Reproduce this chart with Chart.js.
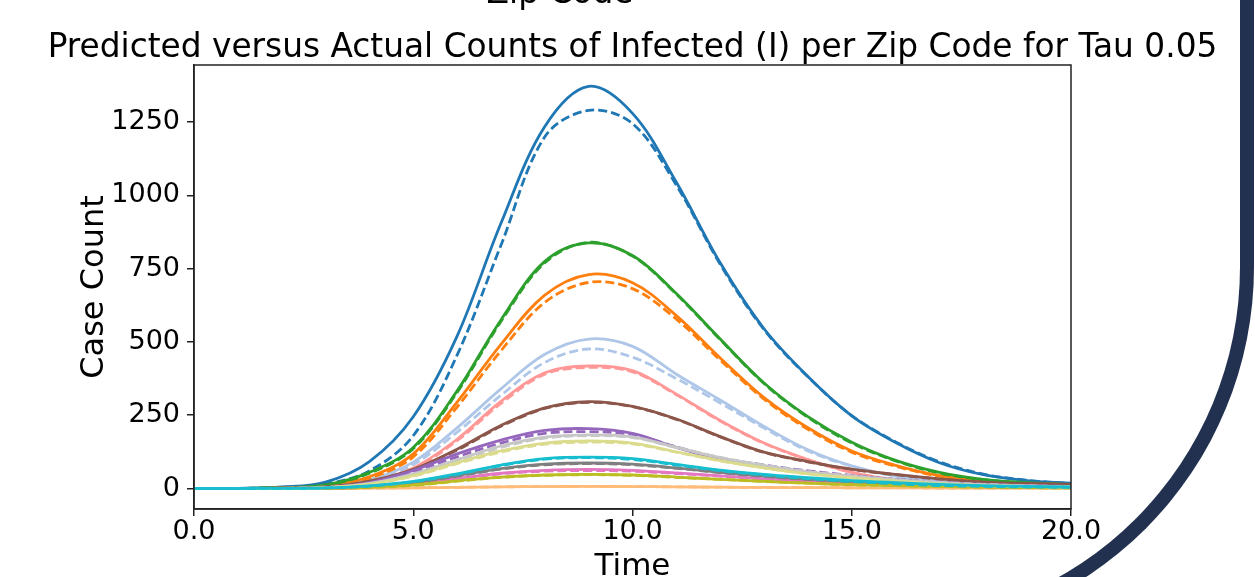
<!DOCTYPE html>
<html>
<head>
<meta charset="utf-8">
<script src="https://cdn.jsdelivr.net/npm/chart.js@4.4.1/dist/chart.umd.min.js"></script>
<style>
    html, body { margin: 0; padding: 0; background: #ffffff; overflow: hidden; }
    #wrap { position: relative; width: 1255px; height: 577px; overflow: hidden; }
    #arc {
        position: absolute; box-sizing: border-box;
        left: 254px; top: -400px; width: 1000px; height: 1037px;
        border-right: 14px solid #21314f; border-bottom: 14px solid #21314f;
        border-bottom-right-radius: 370px;
        pointer-events: none;
    }
</style>
</head>
<body>
<div id="wrap">
    <canvas id="infectedChart" width="1255" height="577"></canvas>
    <div id="arc"></div>
</div>
<script>
// time points (x)
const times = [0, 1, 2, 3, 4, 5, 6, 7, 8, 9, 10, 11, 12, 13, 14, 15, 16, 17, 18, 19, 20];
const xTicks = [0, 5, 10, 15, 20];
const yTicks = [0, 250, 500, 750, 1000, 1250];

// actual (solid) and predicted (dashed) counts per zip code
const blueActual = [0, 0.5, 5, 22, 92, 245, 520, 905, 1235, 1372, 1280, 1045, 770, 545, 382, 248, 157, 88, 47, 27, 18];
const bluePred = [0, 0.3, 3, 15, 60, 180, 455, 830, 1200, 1290, 1245, 1035, 765, 542, 381, 249, 159, 91, 49, 28, 17];
const greenActual = [0, 0.3, 3, 12, 55, 140, 333, 575, 775, 838, 795, 665, 510, 360, 245, 158, 96, 55, 31, 20, 14];
const greenPred = [0, 0.3, 3, 11, 52, 136, 328, 570, 770, 840, 793, 663, 508, 358, 243, 155, 94, 53, 30, 19, 13];
const orangeActual = [0, 0.2, 2, 9, 40, 118, 295, 492, 660, 730, 702, 590, 445, 310, 207, 128, 79, 44, 27, 18, 13];
const orangePred = [0, 0.2, 1.5, 7, 35, 108, 278, 470, 635, 703, 682, 578, 438, 305, 202, 124, 76, 42, 25, 17, 12];
const lightBlueActual = [0, 0.2, 1.5, 7, 30, 90, 207, 340, 458, 510, 485, 390, 302, 212, 132, 77, 42, 25, 14, 9, 7];
const lightBluePred = [0, 0.2, 1.3, 6, 27, 82, 192, 318, 430, 476, 448, 375, 292, 206, 128, 76, 42, 25, 14, 9, 6];
const lightRedActual = [0, 0.1, 1, 5, 22, 70, 168, 297, 395, 418, 402, 322, 232, 155, 99, 55, 29, 16, 9, 5, 3];
const lightRedPred = [0, 0.1, 1, 5, 21, 67, 163, 290, 390, 413, 398, 320, 230, 154, 98, 55, 29, 16, 9, 5, 3];
const brownActual = [0, 0, 1, 5, 25, 65, 134, 215, 275, 296, 280, 237, 177, 124, 92, 66, 48, 33, 22, 17, 14];
const brownPred = [0, 0, 1, 5, 24, 63, 131, 212, 273, 294, 279, 236, 176, 123, 91, 65, 47, 32, 21, 16, 13];
const purpleActual = [0, 0, 0.5, 3, 20, 62, 118, 165, 198, 204, 188, 140, 99, 75, 55, 42, 30, 20, 13, 9, 7];
const purplePred = [0, 0, 0.5, 3, 18, 57, 108, 155, 188, 194, 184, 142, 104, 80, 60, 45, 32, 22, 14, 10, 7];
const lightGrayActual = [0, 0, 0.5, 3, 17, 50, 98, 145, 175, 183, 176, 140, 105, 78, 57, 42, 30, 20, 13, 9, 6];
const lightGrayPred = [0, 0, 0.5, 3, 16, 48, 94, 140, 172, 180, 174, 140, 106, 80, 58, 43, 31, 21, 14, 9, 6];
const khakiActual = [0, 0, 0.4, 3, 15, 44, 88, 128, 155, 162, 155, 125, 95, 70, 50, 36, 25, 16, 10, 7, 5];
const khakiPred = [0, 0, 0.4, 3, 14, 42, 85, 124, 151, 158, 152, 124, 94, 70, 50, 36, 25, 16, 10, 7, 5];
const cyanActual = [0, 0, 0.3, 2, 9, 24, 50, 80, 102, 107, 102, 82, 63, 48, 37, 27, 20, 14, 10, 7, 5];
const cyanPred = [0, 0, 0.3, 2, 8, 23, 48, 78, 100, 105, 99, 80, 61, 46, 34, 24, 16, 10, 7, 5, 4];
const grayActual = [0, 0, 0.3, 1.5, 7, 21, 44, 68, 83, 87, 83, 70, 55, 42, 32, 24, 17, 12, 8, 6, 4];
const grayPred = [0, 0, 0.3, 1.5, 7, 20, 42, 66, 81, 85, 81, 69, 54, 41, 31, 23, 16, 11, 8, 6, 4];
const pinkActual = [0, 0, 0.2, 1, 5, 16, 34, 52, 62, 65, 62, 53, 43, 33, 25, 18, 13, 9, 6, 4, 3];
const pinkPred = [0, 0, 0.2, 1, 5, 15, 32, 50, 59, 61, 59, 51, 42, 32, 24, 18, 13, 9, 6, 4, 3];
const oliveActual = [0, 0, 0.2, 1, 4, 12, 26, 39, 46, 48, 46, 39, 31, 24, 18, 13, 10, 7, 5, 3, 2];
const olivePred = [0, 0, 0.2, 1, 4, 11, 25, 38, 45, 47, 45, 38, 31, 24, 18, 13, 10, 7, 5, 3, 2];
const lightOrangeActual = [0, 0, 0, 0.3, 1, 2.5, 4, 5.5, 6.5, 7, 6.5, 5.5, 4.5, 3.5, 3, 2.5, 2, 1.5, 1, 1, 1];
const lightOrangePred = [0, 0, 0, 0.3, 1, 2.5, 4, 5.5, 6.5, 7, 6.5, 5.5, 4.5, 3.5, 3, 2.5, 2, 1.5, 1, 1, 1];

// plotting order (matplotlib style: later ones on top)
const zipSeries = [
    { color: '#1f77b4', actual: blueActual, pred: bluePred },
    { color: '#aec7e8', actual: lightBlueActual, pred: lightBluePred },
    { color: '#ff7f0e', actual: orangeActual, pred: orangePred },
    { color: '#ffbb78', actual: lightOrangeActual, pred: lightOrangePred },
    { color: '#2ca02c', actual: greenActual, pred: greenPred },
    { color: '#ff9896', actual: lightRedActual, pred: lightRedPred },
    { color: '#8c564b', actual: brownActual, pred: brownPred },
    { color: '#9467bd', actual: purpleActual, pred: purplePred },
    { color: '#e377c2', actual: pinkActual, pred: pinkPred },
    { color: '#7f7f7f', actual: grayActual, pred: grayPred },
    { color: '#c7c7c7', actual: lightGrayActual, pred: lightGrayPred },
    { color: '#bcbd22', actual: oliveActual, pred: olivePred },
    { color: '#dbdb8d', actual: khakiActual, pred: khakiPred },
    { color: '#17becf', actual: cyanActual, pred: cyanPred }
];

const FONT = "'DejaVu Sans', sans-serif";
const toPoints = arr => arr.map((v, i) => ({ x: times[i], y: v }));

const datasets = [];
zipSeries.forEach(s => {
    datasets.push({
        data: toPoints(s.actual), borderColor: s.color, borderWidth: 2.8,
        pointRadius: 0, fill: false, tension: 0.35
    });
    datasets.push({
        data: toPoints(s.pred), borderColor: s.color, borderWidth: 2.8, borderDash: [9, 4],
        pointRadius: 0, fill: false, tension: 0.35
    });
});
// Chart.js paints dataset 0 on top, so flip it
datasets.reverse();

// titles drawn on the canvas around the plot box
const textPlugin = {
    id: 'texts',
    afterDraw(chart) {
        const { ctx, chartArea } = chart;
        const cx = (chartArea.left + chartArea.right) / 2;
        ctx.save();
        ctx.fillStyle = '#000';
        ctx.textAlign = 'center';
        ctx.textBaseline = 'alphabetic';
        ctx.font = `32.8px ${FONT}`;
        ctx.fillText('Zip Code', 560, 3);
        ctx.fillText('Predicted versus Actual Counts of Infected (I) per Zip Code for Tau 0.05', cx, 57);
        ctx.font = `31px ${FONT}`;
        ctx.fillText('Time', cx, 575);
        ctx.translate(103, (chartArea.top + chartArea.bottom) / 2);
        ctx.rotate(-Math.PI / 2);
        ctx.font = `32px ${FONT}`;
        ctx.fillText('Case Count', 0, 0);
        ctx.restore();

        // frame
        ctx.save();
        ctx.strokeStyle = '#222';
        ctx.lineWidth = 1.5;
        ctx.strokeRect(chartArea.left, chartArea.top, chartArea.right - chartArea.left, chartArea.bottom - chartArea.top);
        ctx.restore();
    }
};

const ctx = document.getElementById('infectedChart').getContext('2d');
new Chart(ctx, {
    type: 'line',
    data: { datasets },
    options: {
        responsive: false,
        animation: false,
        layout: { padding: { left: 0, top: 65, right: 184, bottom: 0 } },
        plugins: { legend: { display: false }, tooltip: { enabled: false }, title: { display: false } },
        scales: {
            x: {
                type: 'linear', min: 0, max: 20,
                afterFit: scale => { scale.height = 68; },
                afterBuildTicks: axis => { axis.ticks = xTicks.map(v => ({ value: v })); },
                grid: { drawOnChartArea: false, drawTicks: true, tickLength: 7, color: '#222', lineWidth: 1.5 },
                border: { display: true, color: '#222', width: 1.5 },
                ticks: {
                    color: '#000', padding: 0, maxRotation: 0,
                    font: { family: FONT, size: 27 },
                    callback: v => v.toFixed(1)
                }
            },
            y: {
                type: 'linear', min: -70, max: 1445,
                afterFit: scale => { scale.width = 194; },
                afterBuildTicks: axis => { axis.ticks = yTicks.map(v => ({ value: v })); },
                grid: { drawOnChartArea: false, drawTicks: true, tickLength: 7, color: '#222', lineWidth: 1.5 },
                border: { display: true, color: '#222', width: 1.5 },
                ticks: {
                    color: '#000', padding: 7,
                    font: { family: FONT, size: 27 },
                    callback: v => String(v)
                }
            }
        }
    },
    plugins: [textPlugin]
});
</script>
</body>
</html>
